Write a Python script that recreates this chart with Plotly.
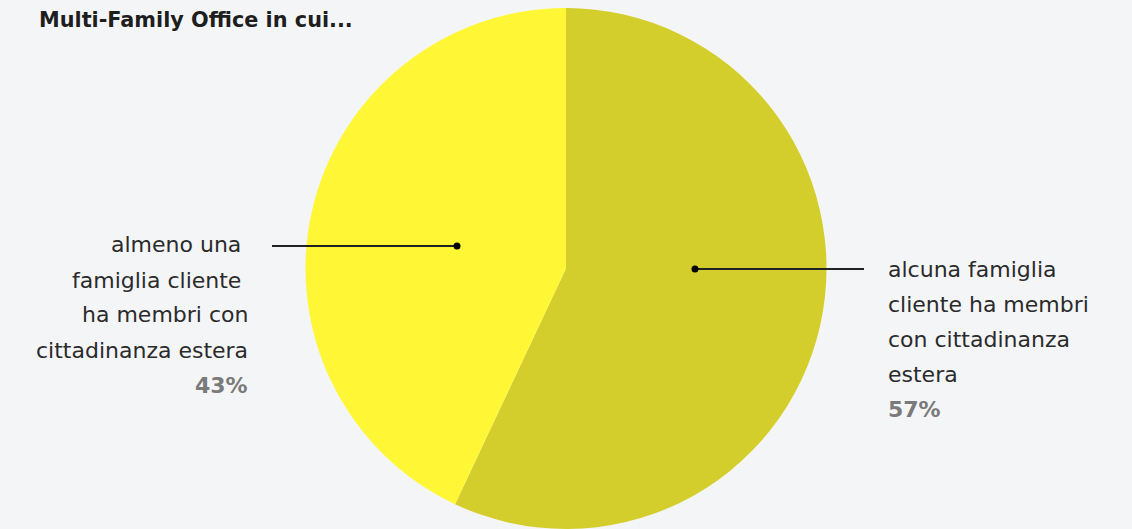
import plotly.graph_objects as go

# ── Data ──────────────────────────────────────────────────────────────────────
TITLE = "Multi-Family Office in cui..."
LABELS = [
    "alcuna famiglia cliente ha membri con cittadinanza estera",
    "almeno una famiglia cliente ha membri con cittadinanza estera",
]
VALUES = [57, 43]
LABEL_LINES = [
    ["alcuna famiglia", "cliente ha membri", "con cittadinanza", "estera"],
    ["almeno una\u00a0", "famiglia cliente\u00a0", "ha membri con", "cittadinanza estera"],
]

# ── Style ─────────────────────────────────────────────────────────────────────
PALETTE = {
    "bg":      "#F4F5F7",
    "olive":   "#D4CE2C",
    "yellow":  "#FFF736",
    "text":    "#2B2B2B",
    "muted":   "#7A7A7A",
    "line":    "#222222",
}
FONT = "DejaVu Sans"
W, H = 1132, 529
TOP = 8

# label layout in pixels: (dot_x, dot_y, line_end_x, text_x, first_line_y, side)
LABEL_POS = [
    (695, 269, 864, 886, 269, "left"),
    (457, 246, 272, 250, 245, "right"),
]
LINE_GAP = 35


def px(x, y):
    return x / W, (H - y) / (H - TOP)


fig = go.Figure(go.Pie(
    labels=LABELS,
    values=VALUES,
    sort=False,
    direction="clockwise",
    rotation=0,
    marker=dict(colors=[PALETTE["olive"], PALETTE["yellow"]], line=dict(width=0)),
    textinfo="none",
    hoverinfo="label+percent",
    showlegend=False,
    domain=dict(x=[0, 1], y=[0, 1]),
))

shapes, annotations = [], []
total = sum(VALUES)
for lines, val, (dx, dy, lx, tx, ty, anchor) in zip(LABEL_LINES, VALUES, LABEL_POS):
    x0, y0 = px(dx, dy)
    x1, _ = px(lx, dy)
    shapes.append(dict(type="line", xref="paper", yref="paper",
                       x0=x0, y0=y0, x1=x1, y1=y0,
                       line=dict(color=PALETTE["line"], width=2)))
    r = 3.5
    shapes.append(dict(type="circle", xref="paper", yref="paper",
                       x0=(dx - r) / W, x1=(dx + r) / W,
                       y0=(H - dy - r) / (H - TOP), y1=(H - dy + r) / (H - TOP),
                       fillcolor="#000000", line=dict(width=0)))
    texts = lines + [f"<b>{round(val / total * 100)}%</b>"]
    for i, t in enumerate(texts):
        ax, ay = px(tx, ty + i * LINE_GAP)
        is_pct = i == len(lines)
        annotations.append(dict(
            text=t, x=ax, y=ay, xref="paper", yref="paper",
            xanchor=anchor, yanchor="middle", showarrow=False,
            font=dict(family=FONT, size=22,
                      color=PALETTE["muted"] if is_pct else PALETTE["text"]),
        ))

tx, ty = px(37, 20)
annotations.append(dict(
    text=f"<b>{TITLE}</b>", x=tx, y=ty, xref="paper", yref="paper",
    xanchor="left", yanchor="middle", showarrow=False,
    font=dict(family=FONT, size=20.8, color="#1E1E1E"),
))

fig.update_layout(
    width=W, height=H,
    paper_bgcolor=PALETTE["bg"],
    plot_bgcolor=PALETTE["bg"],
    margin=dict(l=0, r=0, t=TOP, b=0),
    shapes=shapes,
    annotations=annotations,
    font=dict(family=FONT, color=PALETTE["text"]),
)

# drop the browser's default body margin so the figure fills the window
fig.write_html("out.html", config={"displayModeBar": False},
               post_script="document.body.style.margin='0';")
